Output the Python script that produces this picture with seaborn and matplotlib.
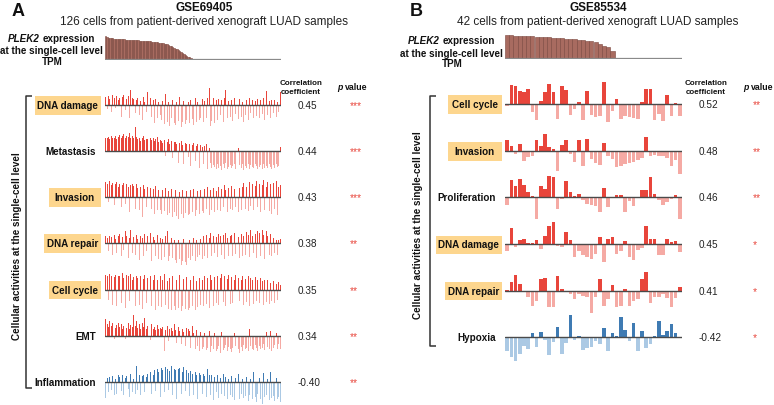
import matplotlib
matplotlib.use("Agg")
import matplotlib.pyplot as plt
import numpy as np
import pandas as pd
import seaborn as sns
from matplotlib.patches import Rectangle

sns.set_theme(style="white")
plt.rcParams["font.family"] = ["Liberation Sans", "DejaVu Sans"]

# -------------------------------------------------------
# Data (bar heights, arbitrary units)
# -------------------------------------------------------

plek2_a = [
    68, 66, 64, 63, 62, 62, 61, 61, 60, 60,
    60, 59, 59, 59, 58, 58, 58, 57, 57, 57,
    57, 56, 56, 56, 55, 55, 55, 55, 54, 54,
    54, 53, 53, 52, 52, 51, 51, 50, 49, 49,
    48, 47, 46, 45, 44, 42, 40, 38, 36, 34,
    31, 29, 27, 24, 21, 18, 15, 12, 10, 7,
    5, 2,
] + [0] * 64

plek2_b = [
    70, 69, 68, 68, 67, 66, 66, 65, 64, 63,
    63, 62, 61, 60, 59, 58, 57, 56, 54, 53,
    51, 48, 44, 38, 33, 23,
] + [0] * 16

a_names = ["DNA damage", "Metastasis", "Invasion", "DNA repair",
           "Cell cycle", "EMT", "Inflammation"]
a_corr = [0.45, 0.44, 0.43, 0.38, 0.35, 0.34, -0.40]
a_stars = ["***", "***", "***", "**", "**", "**", "**"]
a_boxed = [True, False, True, True, True, False, False]

a_dna_damage = [
    25, -12, 28, 18, -20, 30, 22, -8, 26, 15,
    20, -35, 24, 30, -15, 18, 28, -40, 44, 22,
    18, -25, 15, 22, -30, 12, -45, 24, 10, -20,
    38, -50, 20, -35, 14, -55, 18, -40, 10, -30,
    -45, 12, -58, 34, -50, 8, -62, -40, 15, -55,
    -60, 10, -48, 24, -65, -52, 12, -58, -45, 8,
    -55, 15, -42, -60, 20, -50, 10, -45, -38, 18,
    -52, 12, -40, 20, 50, -62, -48, 22, -55, 14,
    -45, 18, -30, 16, -50, 22, 44, -40, 12, -35,
    15, -48, 20, -28, 12, -42, 18, -35, 10, -50,
    -30, 14, -45, 20, -25, 16, -40, 12, -32, 18,
    -38, 15, -28, 22, -45, 42, -30, 12, -40, 16,
    -25, 14, -35, 10, -20, 38,
]
a_metastasis = [
    40, 38, 42, 35, 45, 40, 38, 44, 36, 42,
    48, 40, 45, 52, 38, 46, 42, 55, 40, 44,
    38, 72, 42, 35, 40, 30, 38, 45, 32, 36,
    35, 28, 40, 32, 38, 30, 35, 42, 28, 34,
    30, 25, 32, -15, 28, 35, 22, 30, -20, 26,
    28, 22, -35, 25, 30, 18, -40, 24, 20, -18,
    22, -45, 18, 25, -30, 15, 20, -50, 18, 12,
    -40, 15, 20, -55, 10, -35, -50, -42, -48, -55,
    -38, -52, -45, -58, -40, -50, -35, -55, -48, -42,
    -50, -45, -38, -55, -48, 10, -42, -52, -40, -58,
    -45, -50, -38, -55, -42, -48, -52, -40, -46, -55,
    -48, -42, -55, -38, -50, -45, -52, -40, -48, -55,
    -42, -50, -38, -48, -45, 12,
]
a_invasion = [
    45, 40, -15, 48, 35, 42, -25, 38, 44, 30,
    40, -30, 35, 42, -20, 38, 30, -45, 36, 40,
    32, -35, 38, 28, -40, 30, -60, 35, 25, -30,
    30, -45, 28, -35, 25, -50, 32, -40, 20, -38,
    -50, 22, -42, 28, -55, 18, -48, 25, -60, -45,
    20, -58, -65, 15, -50, 22, -62, -48, 18, -55,
    -52, 20, -45, 25, -58, -40, 18, -50, 22, -42,
    -48, 25, -35, 30, -55, 20, -40, 28, -45, 18,
    -38, 30, -42, 25, -30, 35, 22, -45, 28, -35,
    32, -40, 25, -30, 35, -45, 28, -38, 30, 42,
    -35, 30, -42, 45, -28, 38, -40, 32, 48, -30,
    40, -45, 35, 50, -38, 30, 45, -42, 38, -50,
    42, -35, 48, -55, 30, 35,
]
a_dna_repair = [
    20, 15, -25, 22, 18, -35, 25, 12, -30, 20,
    28, -40, 18, -20, 35, 22, -45, 15, 40, -30,
    18, -35, 25, 12, -50, 20, 15, -40, 28, -25,
    22, -45, 30, -55, 18, 10, -40, 25, -48, 15,
    -50, 12, -42, 20, 35, -55, -38, 15, -45, 10,
    -52, -60, 8, -48, -65, -55, 12, -58, -67, -45,
    10, -50, -40, 15, -55, 8, -42, -35, 12, -48,
    20, -38, 25, -45, 15, 30, -40, 22, -30, 18,
    -42, 28, 20, -35, 25, -48, 30, 15, -38, 22,
    25, -40, 30, -32, 35, 18, -45, 28, -38, 20,
    -35, 32, 25, -42, 38, 22, -30, 28, -45, 35,
    30, -38, 40, 25, -48, 35, 20, -35, 28, -40,
    15, -30, 10, -35, 8, 12,
]
a_cell_cycle = [
    45, 40, -30, 48, 42, -45, 38, 44, -50, 40,
    42, -40, 50, 35, -55, 45, 40, -35, 48, 30,
    38, -50, 42, 35, -45, 40, -58, 32, 45, -40,
    35, -55, 40, -48, 30, 45, -60, 28, -50, 42,
    -52, 30, 48, -45, 25, -58, 35, -62, 40, -50,
    -60, 28, -55, 45, -65, -50, 32, -58, 38, -62,
    -55, 30, -48, 42, -60, 25, -52, 35, -45, 28,
    -50, 40, -42, 35, -55, 45, 30, -48, 38, -40,
    42, -45, 35, 48, -38, 40, -50, 32, 45, -42,
    38, -40, 30, 45, -48, 35, -35, 28, 42, -45,
    32, -38, 40, -50, 35, 28, -42, 38, -35, 30,
    -40, 35, 25, -45, 30, -38, 28, -42, 20, -35,
    25, -40, 18, -30, 22, 15,
]
a_emt = [
    52, 35, 28, 45, 30, 38, -8, 25, 32, 40,
    28, 35, 22, 30, -10, 25, 38, 20, 32, 28,
    62, 30, 45, 25, 35, 20, 40, 28, 55, 22,
    30, 25, -12, 35, 20, 28, 18, 32, 22, 25,
    20, 28, -45, 18, 30, -15, 22, 25, 15, 35,
    18, -20, 28, 15, -25, 22, 12, -30, 25, 20,
    15, -35, 30, 10, -40, 18, -30, -45, 12, -38,
    -32, 10, -42, -35, 15, -48, -30, -40, 8, -45,
    -38, -30, -50, 12, -42, -35, -28, -45, -32, -40,
    -48, -35, 10, -30, -42, -38, -50, -32, -45, -28,
    -40, -35, -45, 20, -30, -38, -42, -28, -35, -45,
    -30, -40, -35, -25, -42, 12, -32, -38, 15, -45,
    -35, -28, 10, -40, -25, -38,
]
a_inflammation = [
    -48, 12, -30, 15, -25, 18, -40, 10, -35, 20,
    15, -28, 22, -38, 12, 18, -22, -45, 25, -30,
    10, -35, 48, -25, 20, -40, 18, 22, -30, 15,
    25, -20, 30, -35, 22, 35, -28, 40, 30, -45,
    42, 35, -30, 45, 38, -25, 32, 48, -40, 40,
    35, -50, 38, 42, -35, 30, 45, -28, 35, 28,
    -42, 32, 25, -38, 30, 20, -50, 28, 22, -35,
    25, 18, -45, 38, 20, -40, 22, -55, 15, -30,
    20, -48, 12, -35, 25, -42, 15, -50, 10, -38,
    18, -45, -55, 12, -40, 25, -50, -35, 10, -48,
    -42, 15, -58, -38, 10, -50, 30, -45, -60, -35,
    12, -52, -65, 28, -45, -38, 10, -55, 30, -48,
    -42, -58, 12, -50, -45, -60,
]

b_names = ["Cell cycle", "Invasion", "Proliferation", "DNA damage",
           "DNA repair", "Hypoxia"]
b_corr = [0.52, 0.48, 0.46, 0.45, 0.41, -0.42]
b_stars = ["**", "**", "**", "*", "*", "*"]
b_boxed = [True, True, False, True, True, False]

b_cell_cycle = [
    -5, 57, 55, 39, 37, 45, -25, -47, 10, 35,
    59, 37, -45, 55, 43, -32, -15, 7, -48, 38,
    -33, -40, -37, 65, -55, -20, 15, -45, -35, -40,
    -43, -45, 6, 45, 45, -47, -30, -50, 27, -35,
    2, -35,
]
b_invasion = [
    33, 14, -9, 20, -29, -19, -16, 34, 16, 51,
    12, 6, -59, 18, 34, -9, -34, 34, -44, 36,
    -24, -36, -42, 24, -16, -24, -49, -46, -39, -36,
    -32, -26, -22, 41, -16, -12, -16, -16, -22, -44,
    -26, -69,
]
b_proliferation = [
    -22, 52, 35, 55, 37, 15, 5, -65, 34, 25,
    65, 62, -35, -5, 48, 15, 5, 10, -8, -20,
    -23, -25, -45, 28, -28, -2, 8, 8, -45, -10,
    -25, -2, 22, 22, 62, 10, -8, -22, -15, -5,
    8, -65,
]
b_dna_damage = [
    -21, 49, -9, 13, 16, 3, 3, 13, -14, 26,
    56, 68, -4, -9, 38, 13, -37, -19, -31, -37,
    -44, -29, 21, -54, 16, 21, -29, -21, 11, -39,
    -47, -17, -11, 56, 16, 16, -31, -31, 16, 6,
    11, -22,
]
b_dna_repair = [
    2, 25, 48, 20, -5, -18, -45, -30, 35, 38,
    -50, -50, 45, 5, -5, -10, -25, -10, -15, -20,
    -68, -20, 35, -45, -25, 18, -50, -45, 5, -45,
    -30, -25, 35, 55, -38, -20, -20, -10, -22, -50,
    -22, 10,
]
b_hypoxia = [
    -42, -58, -70, -50, -25, -35, 12, -28, 17, -8,
    -52, -15, 30, -50, -18, 68, -7, 5, -38, -32,
    -30, -10, -20, 28, -40, 12, 5, 60, 22, -10,
    42, -42, 18, -32, -20, 4, 48, 8, 18, 40,
    12, -3,
]

a_rows = [a_dna_damage, a_metastasis, a_invasion, a_dna_repair,
          a_cell_cycle, a_emt, a_inflammation]
b_rows = [b_cell_cycle, b_invasion, b_proliferation, b_dna_damage,
          b_dna_repair, b_hypoxia]

# -------------------------------------------------------
# Style
# -------------------------------------------------------

W, H = 774, 406
RED, PINK = "#e8453b", "#f5aaa4"
BLUE, LIGHT_BLUE = "#3f7bb3", "#abc9e4"
BROWN, BROWN_EDGE = "#a86b60", "#7a463c"
YELLOW = "#fdd68e"
STAR_RED = "#e8453b"

fig = plt.figure(figsize=(W / 100, H / 100), dpi=100)
ov = fig.add_axes([0, 0, 1, 1])
ov.set_xlim(0, W)
ov.set_ylim(H, 0)
ov.set_axis_off()
renderer = fig.canvas.get_renderer()


def strip(x0, x1, base_y, lo=-75, hi=75):
    # 3 data units per pixel, baseline at pixel row base_y
    top = base_y - hi / 3
    bottom = base_y - lo / 3
    return fig.add_axes([x0 / W, 1 - bottom / H, (x1 - x0) / W, (bottom - top) / H])


def draw_bars(ax, values, up_color, down_color, width, line_color="#4a4a4a", lw=1.0,
              edge=None, lo=-75, hi=75):
    df = pd.DataFrame({"cell": np.arange(len(values)), "score": values})
    df["dir"] = np.where(df["score"] >= 0, "up", "down")
    sns.barplot(
        data=df, x="cell", y="score", hue="dir",
        palette={"up": up_color, "down": down_color},
        dodge=False, width=width, saturation=1, errorbar=None, legend=False,
        linewidth=0.4 if edge else 0, edgecolor=edge if edge else "none", ax=ax
    )
    ax.axhline(0, color=line_color, lw=lw, zorder=5)
    ax.set_xlim(-0.5, len(values) - 0.5)
    ax.set_ylim(lo, hi)
    ax.set_axis_off()


def mixed_line(cx, y, parts, size):
    items = []
    for s, style in parts:
        t = ov.text(0, y, s, fontsize=size, fontweight="bold", fontstyle=style,
                    ha="left", va="center", color="#111111")
        items.append((t, t.get_window_extent(renderer).width))
    gap = size * 100 / 72 * 0.28
    total = sum(w for _, w in items) + gap * (len(items) - 1)
    x = cx - total / 2
    for t, w in items:
        t.set_x(x)
        x += w + gap


def panel(letter, lx, title, subtitle, tx, bar_x0, bar_x1, plek2, plek2_y, label_ys,
          names, corr, stars, boxed, rows, row_y, width,
          label_right, box_right, min_box, corr_x, star_x, head_x, p_x,
          brack_x, brack_top, brack_bottom, vlabel_x):
    ov.text(lx, 11, letter, fontsize=13, fontweight="bold", ha="left", va="center",
            color="#111111")
    ov.text(tx, 8, title, fontsize=8.5, fontweight="bold", ha="center", va="center",
            color="#111111")
    ov.text(tx, 22.5, subtitle, fontsize=8.5, ha="center", va="center", color="#222222")

    # PLEK2 expression strip
    ax = strip(bar_x0, bar_x1, plek2_y, lo=-3, hi=75)
    draw_bars(ax, plek2, BROWN, BROWN, 1.0, line_color="#8a8a8a", lw=0.9,
              edge=BROWN_EDGE, lo=-3, hi=75)
    cx = label_right - 45
    mixed_line(cx, label_ys[0], [("PLEK2", "italic"), ("expression", "normal")], 7.1)
    ov.text(cx, label_ys[1], "at the single-cell level", fontsize=7.1,
            fontweight="bold", ha="center", va="center", color="#111111")
    ov.text(cx + 1, label_ys[2], "TPM", fontsize=7.1, fontweight="bold",
            ha="center", va="center", color="#111111")

    # headers
    ov.text(head_x, 88, "Correlation\ncoefficient", fontsize=5.8, fontweight="bold",
            ha="center", va="center", linespacing=1.25, color="#111111")
    mixed_line(p_x, 87.5, [("p", "italic"), ("value", "normal")], 6.3)

    for name, c, st, bx, vals, y in zip(names, corr, stars, boxed, rows, row_y):
        up, down = (RED, PINK) if c > 0 else (BLUE, LIGHT_BLUE)
        ax = strip(bar_x0, bar_x1, y)
        draw_bars(ax, vals, up, down, width)

        t = ov.text(0, y, name, fontsize=7.1, fontweight="bold", va="center",
                    color="#111111")
        if bx:
            tw = t.get_window_extent(renderer).width
            bw = max(min_box, tw + 5)
            ov.add_patch(Rectangle((box_right - bw, y - 8.7), bw, 18.2,
                                   facecolor=YELLOW, edgecolor="none", zorder=0))
            t.set_x(box_right - bw / 2)
            t.set_ha("center")
        else:
            t.set_x(label_right)
            t.set_ha("right")

        ov.text(corr_x, y, f"{c:.2f}", fontsize=7.2, ha="left", va="center",
                color="#222222")
        ov.text(star_x, y, st, fontsize=7.4, ha="left", va="center", color=STAR_RED)

    # bracket and side label
    ov.plot([brack_x + 5.5, brack_x, brack_x, brack_x + 5.5],
            [brack_top, brack_top, brack_bottom, brack_bottom],
            color="#333333", lw=1.1, solid_capstyle="butt")
    ov.text(vlabel_x, (brack_top + brack_bottom) / 2 + 3.5,
            "Cellular activities at the single-cell level", fontsize=7.1,
            fontweight="bold", rotation=90, ha="center", va="center", color="#111111")


panel("A", 12, "GSE69405", "126 cells from patient-derived xenograft LUAD samples", 204,
      105, 281, plek2_a, 60, (38.7, 50.7, 62.3), a_names, a_corr, a_stars, a_boxed, a_rows,
      [106, 152, 198, 244, 290.7, 337, 383], 0.7,
      label_right=96, box_right=100.7, min_box=52, corr_x=298, star_x=350,
      head_x=301, p_x=352, brack_x=26, brack_top=96.7, brack_bottom=389.3,
      vlabel_x=17.3)

panel("B", 410, "GSE85534", "42 cells from patient-derived xenograft LUAD samples", 598,
      505, 682, plek2_b, 59.3, (41.3, 53.8, 64.3), b_names, b_corr, b_stars, b_boxed, b_rows,
      [105, 152, 198.3, 245.3, 291.7, 338.3], 0.85,
      label_right=496, box_right=501.7, min_box=54, corr_x=699, star_x=753,
      head_x=706, p_x=758, brack_x=430, brack_top=96.7, brack_bottom=346.7,
      vlabel_x=418)

fig.savefig("out.png", dpi=100)
